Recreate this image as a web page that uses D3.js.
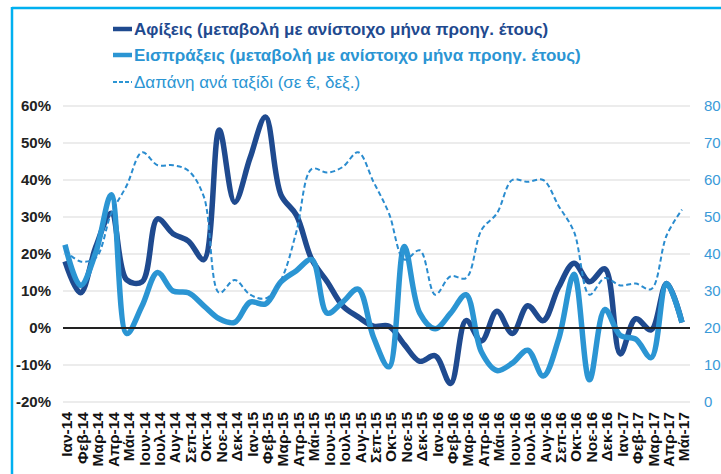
<html>
<head>
<meta charset="utf-8">
<script src="https://cdn.jsdelivr.net/npm/d3@7"></script>
<style>
  body { margin: 0; background: #fff; }
  text { font-family: "Liberation Sans", Arial, sans-serif; }
</style>
</head>
<body>
<script>

// months on the x axis
const months = ["Ιαν-14","Φεβ-14","Μαρ-14","Απρ-14","Μάι-14","Ιουν-14","Ιουλ-14","Αυγ-14","Σεπ-14","Οκτ-14","Νοε-14","Δεκ-14",
  "Ιαν-15","Φεβ-15","Μαρ-15","Απρ-15","Μάι-15","Ιουν-15","Ιουλ-15","Αυγ-15","Σεπ-15","Οκτ-15","Νοε-15","Δεκ-15",
  "Ιαν-16","Φεβ-16","Μαρ-16","Απρ-16","Μάι-16","Ιουν-16","Ιουλ-16","Αυγ-16","Σεπ-16","Οκτ-16","Νοε-16","Δεκ-16",
  "Ιαν-17","Φεβ-17","Μαρ-17","Απρ-17","Μάι-17"];

// Αφίξεις, % yoy
const arrivals = [18, 9.5, 22, 31, 13, 12.5, 29.5, 25.5, 23.5, 18.5, 53.5, 34, 46, 57, 36, 30.5, 18.5, 12.5, 6, 3, 0.5,
  0.5, -4.5, -9, -7.5, -15, 2, -3.5, 4.5, -1.5, 6, 2, 11, 17.5, 12.5, 16, -7, 2.5, -0.5, 12, 1.5];

// Εισπράξεις, % yoy
const receipts = [22.5, 11.5, 20.5, 36, -1.5, 6, 15, 10, 9.5, 6, 2.5, 1.5, 7, 6.5, 12.5, 15.5, 18.5, 4, 7, 10.5, -2.5,
  -10.5, 22, 4, -0.2, 4, 9, -6.5, -11.5, -9.5, -6, -13, -3, 14.5, -14, 5, -2, -3, -8, 12, 1.5];

// Δαπάνη ανά ταξίδι, €, right axis
const spending = [41, 38, 39, 51, 58.5, 67.5, 64, 64, 62.5, 55.5, 29.5, 33, 29, 28, 33, 46, 63, 62, 63.5, 67.5, 59.5,
  51, 38.5, 41, 29, 34, 33.5, 46.5, 51, 60, 59.5, 60, 53, 46, 29, 33.5, 31.5, 32, 30.5, 45, 52];

const leftTicks = [-20, -10, 0, 10, 20, 30, 40, 50, 60];
const rightTicks = [0, 10, 20, 30, 40, 50, 60, 70, 80];

const legendLabels = [
  "Αφίξεις (μεταβολή με ανίστοιχο μήνα προηγ. έτους)",
  "Εισπράξεις (μεταβολή με ανίστοιχο μήνα προηγ. έτους)",
  "Δαπάνη ανά ταξίδι (σε €, δεξ.)"
];

const dark = "#1f4a8f", light = "#2b95d3", frame = "#00b0f0";

const svg = d3.select("body").append("svg")
  .attr("width", 721)
  .attr("height", 474);

// frame lines (left + top)
svg.append("line").attr("x1", 12).attr("x2", 12).attr("y1", 7).attr("y2", 474)
  .attr("stroke", frame).attr("stroke-width", 2.5);
svg.append("line").attr("x1", 12).attr("x2", 721).attr("y1", 8).attr("y2", 8)
  .attr("stroke", frame).attr("stroke-width", 2.5);

const x = d3.scalePoint().domain(months).range([65, 682]);
const y = d3.scaleLinear().domain([-20, 60]).range([402, 106]);
const y2 = d3.scaleLinear().domain([0, 80]).range([402, 106]);

// grid
svg.append("g").selectAll("line")
  .data(leftTicks.filter(d => d !== 0))
  .enter().append("line")
  .attr("x1", 63).attr("x2", 690)
  .attr("y1", d => y(d)).attr("y2", d => y(d))
  .attr("stroke", "#d9d9d9").attr("stroke-width", 1);

// left axis
const la = svg.append("g")
  .attr("transform", "translate(51,0)")
  .call(d3.axisLeft(y).tickValues(leftTicks).tickFormat(d => d + "%").tickSize(0).tickPadding(0));
la.select(".domain").remove();
la.selectAll("text")
  .attr("font-size", 15).attr("font-weight", "bold").attr("fill", "#222")
  .style("font-family", "'Liberation Sans', Arial, sans-serif");

// right axis
const ra = svg.append("g")
  .attr("transform", "translate(704,0)")
  .call(d3.axisRight(y2).tickValues(rightTicks).tickSize(0).tickPadding(0));
ra.select(".domain").remove();
ra.selectAll("text")
  .attr("font-size", 15).attr("fill", "#3a9ad8")
  .style("font-family", "'Liberation Sans', Arial, sans-serif");

// month labels
svg.append("g").selectAll("text")
  .data(months)
  .enter().append("text")
  .attr("transform", d => `translate(${x(d) + 2},412) rotate(-90)`)
  .attr("dy", "0.35em")
  .attr("text-anchor", "end")
  .attr("font-size", 15.5)
  .attr("font-weight", "bold")
  .attr("fill", "#111")
  .text(d => d);

const curve = d3.curveCatmullRom.alpha(0.5);
const lineL = d3.line().x((d, i) => x(months[i])).y(d => y(d)).curve(curve);
const lineR = d3.line().x((d, i) => x(months[i])).y(d => y2(d)).curve(curve);

svg.append("path").datum(arrivals)
  .attr("d", lineL).attr("fill", "none")
  .attr("stroke", dark).attr("stroke-width", 5.5).attr("stroke-linejoin", "round");

svg.append("path").datum(receipts)
  .attr("d", lineL).attr("fill", "none")
  .attr("stroke", light).attr("stroke-width", 5.5).attr("stroke-linejoin", "round");

// zero line
svg.append("line")
  .attr("x1", 63).attr("x2", 690)
  .attr("y1", y(0)).attr("y2", y(0))
  .attr("stroke", "#222").attr("stroke-width", 2);

svg.append("path").datum(spending)
  .attr("d", lineR).attr("fill", "none")
  .attr("stroke", "#2a8ccf").attr("stroke-width", 2)
  .attr("stroke-dasharray", "5,3");

// legend
const legendY = [29, 55, 82];
const lg = svg.append("g");
legendLabels.forEach((t, i) => {
  const l = lg.append("line")
    .attr("x1", 113).attr("x2", 132)
    .attr("y1", legendY[i]).attr("y2", legendY[i])
    .attr("stroke", i === 0 ? dark : light)
    .attr("stroke-width", i < 2 ? 4.5 : 2);
  if (i === 2) l.attr("stroke-dasharray", "4,2");
  lg.append("text")
    .attr("x", 134).attr("y", legendY[i])
    .attr("dy", "0.35em")
    .attr("font-size", 17)
    .attr("font-weight", i < 2 ? "bold" : "normal")
    .attr("fill", i === 0 ? dark : light)
    .text(t);
});

</script>
</body>
</html>
